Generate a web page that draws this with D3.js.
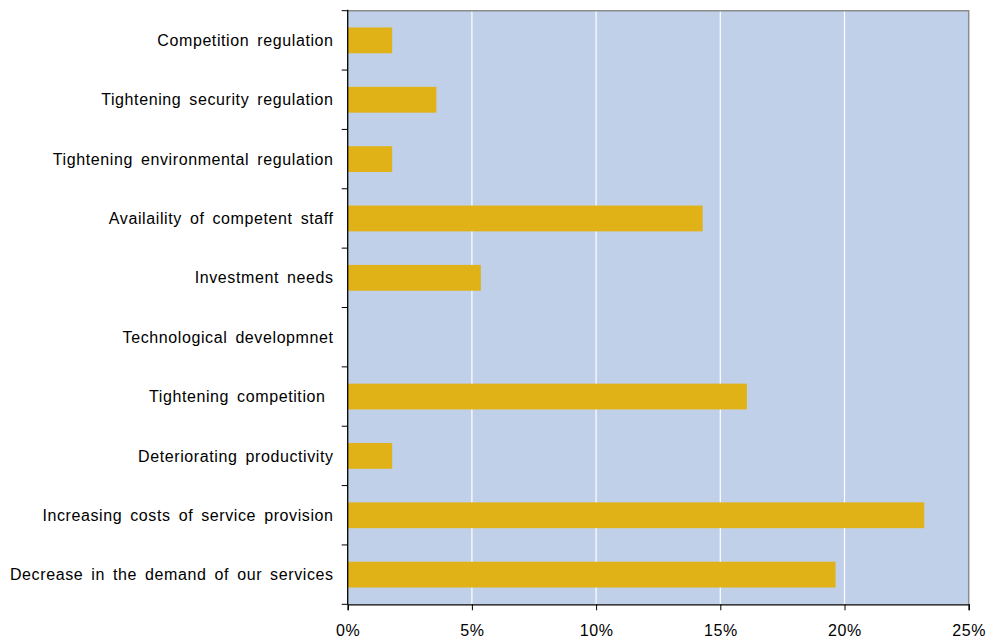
<!DOCTYPE html>
<html>
<head>
<meta charset="utf-8">
<script src="https://cdn.jsdelivr.net/npm/d3@7"></script>
<style>
  html, body { margin: 0; padding: 0; background: #ffffff; }
  svg { display: block; }
  text { font-family: "Liberation Sans", Arial, sans-serif; fill: #000; white-space: pre; }
</style>
</head>
<body>
<svg id="chart" width="989" height="641"></svg>
<script>
// Factors, listed top to bottom
const categories = [
  "Competition regulation",
  "Tightening security regulation",
  "Tightening environmental regulation",
  "Availaility of competent staff",
  "Investment needs",
  "Technological developmnet",
  "Tightening competition ",
  "Deteriorating productivity",
  "Increasing costs of service provision",
  "Decrease in the demand of our services"
];
// Share of respondents (%)
const shares = [1.79, 3.57, 1.79, 14.29, 5.36, 0, 16.07, 1.79, 23.21, 19.64];
const xTicks = [0, 5, 10, 15, 20, 25];

const svg = d3.select("#chart");
const plot = { left: 347.7, right: 968.7, top: 10.7, bottom: 604.3 };

const x = d3.scaleLinear().domain([0, 25]).range([plot.left, plot.right]);
const y = d3.scaleBand().domain(categories).range([plot.top, plot.bottom])
  .paddingInner(0.565).paddingOuter(0.565 / 2);
const yBounds = d3.scalePoint().domain(d3.range(categories.length + 1)).range([plot.top, plot.bottom]);

// plot background
svg.append("rect")
  .attr("x", plot.left).attr("y", plot.top)
  .attr("width", plot.right - plot.left).attr("height", plot.bottom - plot.top)
  .attr("fill", "#c1d0e9");

// vertical gridlines
svg.append("g").selectAll("line")
  .data(xTicks.filter(d => d > 0 && d < 25))
  .join("line")
  .attr("x1", d => x(d)).attr("x2", d => x(d))
  .attr("y1", plot.top).attr("y2", plot.bottom)
  .attr("stroke", "#ffffff").attr("stroke-width", 1.2);

// bars
svg.append("g").selectAll("rect")
  .data(categories.map((c, i) => ({ c, v: shares[i] })))
  .join("rect")
  .attr("x", x(0))
  .attr("y", d => y(d.c))
  .attr("width", d => x(d.v) - x(0))
  .attr("height", y.bandwidth())
  .attr("fill", "#e0b218");

// top and right frame
svg.append("path")
  .attr("d", `M${plot.left},${plot.top}H${plot.right}V${plot.bottom}`)
  .attr("fill", "none").attr("stroke", "#8c8c8c").attr("stroke-width", 1.5);

// x axis
const xAxis = d3.axisBottom(x).tickValues(xTicks).tickSize(6).tickPadding(14)
  .tickFormat(d => d + "%");
const gx = svg.append("g").attr("transform", `translate(0,${plot.bottom})`).call(xAxis);
gx.select(".domain").attr("stroke", "#000").attr("stroke-width", 1.3);
gx.selectAll(".tick line").attr("stroke", "#000");
gx.selectAll("text")
  .attr("font-size", 16)
  .attr("font-family", "Liberation Sans, Arial, sans-serif")
  .attr("letter-spacing", "0.6px");

// y axis: ticks sit at category boundaries
svg.append("line")
  .attr("x1", plot.left).attr("x2", plot.left)
  .attr("y1", plot.top - 1).attr("y2", plot.bottom)
  .attr("stroke", "#000").attr("stroke-width", 1.3);
svg.append("g").selectAll("line")
  .data(yBounds.domain())
  .join("line")
  .attr("x1", plot.left - 6).attr("x2", plot.left)
  .attr("y1", d => yBounds(d)).attr("y2", d => yBounds(d))
  .attr("stroke", "#000");

svg.append("g").selectAll("text")
  .data(categories)
  .join("text")
  .attr("x", 333.6)
  .attr("y", d => y(d) + y.bandwidth() / 2)
  .attr("dy", "0.35em")
  .attr("text-anchor", "end")
  .attr("font-size", 16)
  .attr("letter-spacing", "0.6px")
  .attr("word-spacing", "3px")
  .text(d => d);
</script>
</body>
</html>
